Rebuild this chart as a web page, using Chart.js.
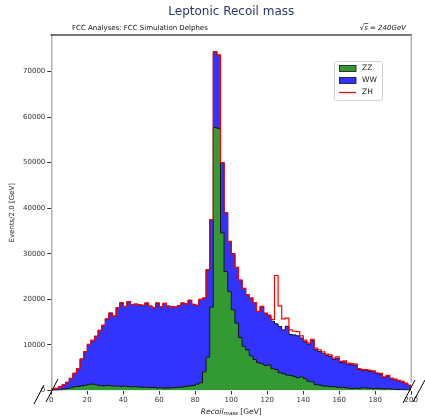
<!DOCTYPE html>
<html>
<head>
<meta charset="utf-8">
<script src="https://cdn.jsdelivr.net/npm/chart.js@4.4.1/dist/chart.umd.min.js"></script>
<style>
  html, body { margin: 0; padding: 0; background: #fff; }
  #wrap { width: 425px; height: 417px; }
</style>
</head>
<body>
<div id="wrap"><canvas id="recoilChart" width="425" height="417"></canvas></div>
<script>
// events per 2 GeV bin, 0..200 GeV (100 bins)
const zz = [
  30, 80, 150, 300, 450, 600, 800, 900, 1000, 1150,
  1350, 1400, 1250, 1050, 1000, 1100, 1050, 950, 950, 900,
  950, 850, 800, 850, 750, 700, 700, 650, 650, 550,
  600, 500, 550, 600, 650, 700, 750, 900, 1000, 1100,
  1400, 1700, 4100, 7300, 18300, 57700, 57500, 34600, 26100, 21700,
  17700, 14800, 11600, 9700, 8900, 7600, 6800, 6100, 5900, 5500,
  5600, 4800, 4600, 3900, 3700, 3400, 3300, 3100, 2800, 3000,
  2600, 2000, 1900, 1300, 1200, 1000, 950, 850, 850, 700,
  700, 650, 500, 450, 500, 450, 600, 550, 500, 400,
  450, 400, 350, 400, 300, 250, 200, 200, 150, 150
];
const ww = [
  320, 390, 720, 920, 1330, 2050, 2980, 3900, 5900, 7390,
  8750, 9600, 10650, 12150, 13300, 14600, 15950, 15350, 17200, 18350,
  17490, 18630, 18070, 18100, 18050, 18000, 18500, 17850, 17550, 18650,
  17800, 18600, 17950, 17800, 17650, 17900, 18450, 18100, 18800, 17800,
  17300, 18300, 16200, 19200, 19200, 16600, 16100, 15400, 12900, 11000,
  12300, 12200, 12600, 12700, 12100, 12670, 12500, 11240, 12500, 11400,
  10800, 10400, 10030, 10150, 9600, 10700, 9000, 9100, 9200, 8500,
  8100, 8200, 9100, 7650, 7350, 7200, 6750, 6650, 5950, 6400,
  5450, 5600, 5250, 5200, 5050, 4150, 3800, 3850, 3700, 3700,
  3250, 3200, 2500, 2750, 2250, 2100, 1900, 1700, 1350, 950
];
const zh = [
  0, 0, 0, 0, 0, 0, 0, 0, 0, 0,
  0, 0, 0, 0, 0, 0, 0, 0, 0, 0,
  0, 0, 0, 0, 0, 0, 0, 0, 0, 0,
  0, 0, 0, 0, 0, 0, 0, 0, 0, 0,
  0, 0, 0, 0, 0, 0, 0, 0, 0, 0,
  0, 0, 0, 0, 0, 0, 0, 0, 50, 80,
  150, 400, 10600, 4500, 2400, 1800, 1000, 800, 900, 500,
  350, 250, 250, 350, 350, 300, 300, 300, 300, 300,
  250, 250, 250, 250, 250, 200, 200, 200, 200, 200,
  200, 150, 150, 150, 150, 150, 100, 100, 100, 100
];
const binWidth = 2;
const xTicks = [0, 20, 40, 60, 80, 100, 120, 140, 160, 180, 200];
const yTicks = [0, 10000, 20000, 30000, 40000, 50000, 60000, 70000];

const FONT = 'DejaVu Sans';

// stack the samples like hist(stacked=True)
const zzTop = zz.slice();
const wwTop = ww.map((v, i) => v + zzTop[i]);
const zhTop = zh.map((v, i) => v + wwTop[i]);

const stepPoints = (vals) => {
  const pts = vals.map((v, i) => ({ x: i * binWidth, y: v }));
  pts.push({ x: vals.length * binWidth, y: vals[vals.length - 1] });
  return pts;
};

const extras = {
  id: 'extras',
  afterDraw(chart) {
    const ctx = chart.ctx;
    const a = chart.chartArea;
    ctx.save();

    // top / right spines
    ctx.lineWidth = 1.5;
    ctx.strokeStyle = '#4a4a4a';
    ctx.beginPath();
    ctx.moveTo(a.left - 0.75, a.top);
    ctx.lineTo(a.right + 0.75, a.top);
    ctx.stroke();
    ctx.strokeStyle = '#b0b0b0';
    ctx.beginPath();
    ctx.moveTo(a.right, a.top);
    ctx.lineTo(a.right, a.bottom - 8);
    ctx.stroke();

    // broken axis marks
    ctx.strokeStyle = '#000';
    ctx.lineWidth = 1;
    [[34, 404, 44, 385], [46, 402, 58, 379], [403, 403, 415, 380], [413, 402, 425, 380]].forEach(s => {
      ctx.beginPath();
      ctx.moveTo(s[0], s[1]);
      ctx.lineTo(s[2], s[3]);
      ctx.stroke();
    });

    // title
    ctx.fillStyle = '#2b3a66';
    ctx.font = '12px "' + FONT + '"';
    ctx.textAlign = 'center';
    ctx.textBaseline = 'middle';
    ctx.fillText('Leptonic Recoil mass', (a.left + a.right) / 2, 12);

    // header texts
    ctx.fillStyle = '#111';
    ctx.font = '7px "' + FONT + '"';
    ctx.textAlign = 'left';
    ctx.fillText('FCC Analyses: FCC Simulation Delphes', 72, 28);
    ctx.font = 'italic 7px "' + FONT + '"';
    const full = '\u221As = 240GeV';
    const x0 = 406 - ctx.measureText(full).width;
    ctx.fillText(full, x0, 28);
    const rw = ctx.measureText('\u221A').width;
    const sw = ctx.measureText('s').width;
    ctx.lineWidth = 0.6;
    ctx.strokeStyle = '#111';
    ctx.beginPath();
    ctx.moveTo(x0 + rw - 0.5, 23.5);
    ctx.lineTo(x0 + rw + sw + 0.5, 23.5);
    ctx.stroke();

    // y axis title
    ctx.save();
    ctx.translate(12, (a.top + a.bottom) / 2);
    ctx.rotate(-Math.PI / 2);
    ctx.font = '7px "' + FONT + '"';
    ctx.textAlign = 'center';
    ctx.fillStyle = '#222';
    ctx.fillText('Events/2.0 [GeV]', 0, 0);
    ctx.restore();

    // x axis title: Recoil_{mass} [GeV]
    ctx.fillStyle = '#222';
    ctx.textBaseline = 'alphabetic';
    ctx.textAlign = 'left';
    const big = 'italic 7.5px "' + FONT + '"';
    const sub = 'italic 5.5px "' + FONT + '"';
    const norm = '7.5px "' + FONT + '"';
    ctx.font = big; const w1 = ctx.measureText('Recoil').width;
    ctx.font = sub; const w2 = ctx.measureText('mass').width;
    ctx.font = norm; const w3 = ctx.measureText(' [GeV]').width;
    let lx = (a.left + a.right) / 2 - (w1 + w2 + w3) / 2;
    const by = 413.5;
    ctx.font = big; ctx.fillText('Recoil', lx, by); lx += w1;
    ctx.font = sub; ctx.fillText('mass', lx, by + 1.8); lx += w2;
    ctx.font = norm; ctx.fillText(' [GeV]', lx, by);

    // legend
    const lgX = 334, lgY = 61;
    ctx.fillStyle = 'rgba(255,255,255,0.85)';
    ctx.strokeStyle = '#d4d4d4';
    ctx.lineWidth = 1;
    ctx.beginPath();
    ctx.roundRect(lgX + 0.5, lgY + 0.5, 48, 39, 2);
    ctx.fill();
    ctx.stroke();
    const items = [
      { label: 'ZZ', fill: '#339933', edge: '#111' },
      { label: 'WW', fill: '#3333ff', edge: '#0a0a40' },
      { label: 'ZH', line: '#ff0000' }
    ];
    ctx.font = '7.5px "' + FONT + '"';
    ctx.textBaseline = 'middle';
    items.forEach((it, k) => {
      const cy = lgY + 7.5 + k * 12;
      if (it.line) {
        ctx.strokeStyle = it.line;
        ctx.lineWidth = 1.2;
        ctx.beginPath();
        ctx.moveTo(lgX + 5, cy);
        ctx.lineTo(lgX + 22, cy);
        ctx.stroke();
      } else {
        ctx.fillStyle = it.fill;
        ctx.fillRect(lgX + 5.5, cy - 3, 16.5, 6);
        ctx.strokeStyle = it.edge;
        ctx.lineWidth = 0.8;
        ctx.strokeRect(lgX + 5.5, cy - 3, 16.5, 6);
      }
      ctx.fillStyle = '#222';
      ctx.fillText(it.label, lgX + 28, cy);
    });

    ctx.restore();
  }
};

const ctx = document.getElementById('recoilChart').getContext('2d');
new Chart(ctx, {
  type: 'line',
  data: {
    datasets: [
      {
        label: 'ZZ',
        data: stepPoints(zzTop),
        stepped: 'before',
        fill: 'origin',
        backgroundColor: '#339933',
        borderColor: '#111',
        borderWidth: 1,
        pointRadius: 0,
        order: 1
      },
      {
        label: 'WW',
        data: stepPoints(wwTop),
        stepped: 'before',
        fill: '-1',
        backgroundColor: '#3333ff',
        borderColor: '#0a0a40',
        borderWidth: 1,
        pointRadius: 0,
        order: 2
      },
      {
        label: 'ZH',
        data: stepPoints(zhTop),
        stepped: 'before',
        fill: false,
        borderColor: '#ff0000',
        borderWidth: 1.2,
        pointRadius: 0,
        order: 0
      }
    ]
  },
  options: {
    responsive: false,
    animation: false,
    devicePixelRatio: 1,
    layout: { padding: { top: 35, right: 13.7, left: 0, bottom: 0 } },
    scales: {
      x: {
        type: 'linear',
        min: 0,
        max: 200,
        border: { display: false },
        grid: { drawOnChartArea: false, tickLength: 4, tickColor: '#333' },
        ticks: { color: '#333', font: { family: FONT, size: 7 }, padding: 1, maxRotation: 0, autoSkip: false,
                 callback: (v) => String(v) },
        afterBuildTicks: (s) => { s.ticks = xTicks.map(v => ({ value: v })); },
        afterFit: (s) => { s.height = 26.5; }
      },
      y: {
        min: 0,
        max: 78000,
        border: { display: true, color: '#b0b0b0', width: 1.5 },
        grid: { drawOnChartArea: false, tickLength: 4, tickColor: '#333' },
        ticks: { color: '#333', font: { family: FONT, size: 7 }, padding: 2,
                 callback: (v) => String(v) },
        afterBuildTicks: (s) => { s.ticks = yTicks.map(v => ({ value: v })); },
        afterFit: (s) => { s.width = 51.3; }
      }
    },
    plugins: {
      legend: { display: false },
      tooltip: { enabled: false },
      title: { display: false }
    }
  },
  plugins: [extras]
});
</script>
</body>
</html>
